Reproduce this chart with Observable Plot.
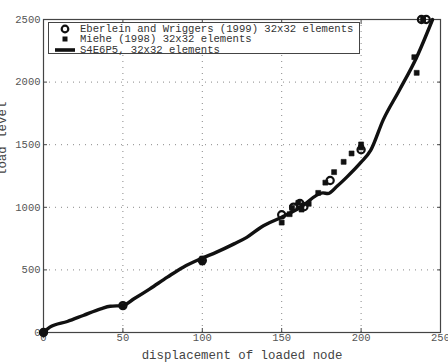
<!DOCTYPE html>
<html><head><meta charset="utf-8">
<script src="https://cdn.jsdelivr.net/npm/d3@7"></script>
<script src="https://cdn.jsdelivr.net/npm/@observablehq/plot@0.6"></script>
<style>
body{margin:0;background:#fff;}
#wrap{position:relative;width:448px;height:362px;font-family:"Liberation Mono","DejaVu Sans Mono",monospace;}
#legend{position:absolute;left:48px;top:22px;width:312px;height:32px;border:1px solid #444;background:#fff;font-size:10.6px;color:#333;box-sizing:border-box;}
.row{position:absolute;left:0;height:10px;line-height:10px;white-space:nowrap;}
.row svg{position:absolute;left:4px;top:0;}
.row span{position:absolute;left:31px;top:0;}
</style></head>
<body><div id="wrap"><div id="legend"></div></div>
<script>
// S4E6P5, 32x32 elements (solid line)
const lineX = [0, 4, 15, 25, 36, 42, 50, 57, 67, 78, 88, 99, 109, 120, 128, 137, 150, 162, 176, 179, 185, 191, 200, 206, 214, 224, 235, 245];
const lineY = [0, 43, 88, 136, 189, 210, 215, 269, 349, 442, 522, 589, 642, 708, 760, 841, 921, 1001, 1115, 1110, 1170, 1241, 1360, 1454, 1700, 1933, 2199, 2500];
// Eberlein and Wriggers (1999) 32x32 elements (open circles)
const ebX = [0, 50, 100, 150, 157.5, 161.5, 164, 180.5, 200, 238, 241];
const ebY = [0, 215, 575, 940, 1001, 1030, 1005, 1214, 1460, 2500, 2500];
// Miehe (1998) 32x32 elements (filled squares)
const miX = [0, 50, 100, 100, 150, 155, 156.5, 160.5, 162.5, 167, 173, 177.5, 183, 189, 194, 200, 200, 233.5, 235, 239];
const miY = [0, 215, 590, 560, 878, 945, 996, 1036, 982, 1028, 1115, 1197, 1281, 1363, 1430, 1502, 1478, 2199, 2074, 2500];
const xTicks = [0, 50, 100, 150, 200, 250];
const yTicks = [0, 500, 1000, 1500, 2000, 2500];
const legendLabels = ["Eberlein and Wriggers (1999) 32x32 elements", "Miehe (1998) 32x32 elements", "S4E6P5, 32x32 elements"];
const xLabel = "displacement of loaded node";
const yLabel = "load level";

const line = lineX.map((x, i) => ({x, y: lineY[i]}));
const eb = ebX.map((x, i) => ({x, y: ebY[i]}));
const mi = miX.map((x, i) => ({x, y: miY[i]}));

const font = "Liberation Mono, DejaVu Sans Mono, monospace";
const fmt = d => String(d);
const chart = Plot.plot({
  width: 448, height: 362,
  marginLeft: 43, marginRight: 8, marginTop: 19, marginBottom: 30,
  style: {fontFamily: font, fontSize: "10.5px", background: "#fff", overflow: "visible"},
  x: {domain: [0, 250]},
  y: {domain: [0, 2500]},
  marks: [
    Plot.ruleX(xTicks.slice(1, -1), {stroke: "#888", strokeDasharray: "1,5", strokeWidth: 1}),
    Plot.ruleY(yTicks.slice(1, -1), {stroke: "#888", strokeDasharray: "1,5", strokeWidth: 1}),
    Plot.axisX({ticks: xTicks, tickSize: -4, tickPadding: 5, tickFormat: fmt, label: null, color: "#555", stroke: "#444"}),
    Plot.axisX({ticks: xTicks, anchor: "top", tickSize: -4, label: null, stroke: "#444", text: null}),
    Plot.axisY({ticks: yTicks, tickSize: -4, tickPadding: 7, tickFormat: fmt, label: null, color: "#555", stroke: "#444"}),
    Plot.axisY({ticks: yTicks, anchor: "right", tickSize: -4, label: null, stroke: "#444", text: null}),
    Plot.frame({stroke: "#444", strokeWidth: 1.2}),
    Plot.line(line, {x: "x", y: "y", stroke: "#111", strokeWidth: 3.4, curve: "monotone-x", strokeLinejoin: "round", strokeLinecap: "round"}),
    Plot.dot(mi, {x: "x", y: "y", symbol: "square", r: 2.8, fill: "#111", stroke: "#111", strokeWidth: 0.6}),
    Plot.dot(eb, {x: "x", y: "y", r: 3.6, fill: "none", stroke: "#111", strokeWidth: 2.2}),
    Plot.text([xLabel], {frameAnchor: "bottom", text: d => d, dy: 26, fontSize: 12.4, fill: "#444", fontFamily: font}),
    Plot.text([yLabel], {frameAnchor: "left", text: d => d, rotate: -90, dx: -41, fontSize: 12.4, fill: "#444", fontFamily: font})
  ]
});
const wrap = document.getElementById("wrap");
wrap.insertBefore(chart, wrap.firstChild);

const legend = document.getElementById("legend");
const keys = [
  '<svg width="24" height="10"><circle cx="12" cy="5" r="3.3" fill="none" stroke="#111" stroke-width="2.2"/></svg>',
  '<svg width="24" height="10"><rect x="9.5" y="2.5" width="5" height="5" fill="#111"/></svg>',
  '<svg width="24" height="10"><line x1="2" y1="5" x2="22" y2="5" stroke="#111" stroke-width="3.6"/></svg>'
];
legendLabels.forEach((t, i) => {
  const r = document.createElement("div");
  r.className = "row";
  r.style.top = (1 + i * 10.3) + "px";
  r.innerHTML = keys[i] + "<span>" + t + "</span>";
  legend.appendChild(r);
});
</script></body></html>
